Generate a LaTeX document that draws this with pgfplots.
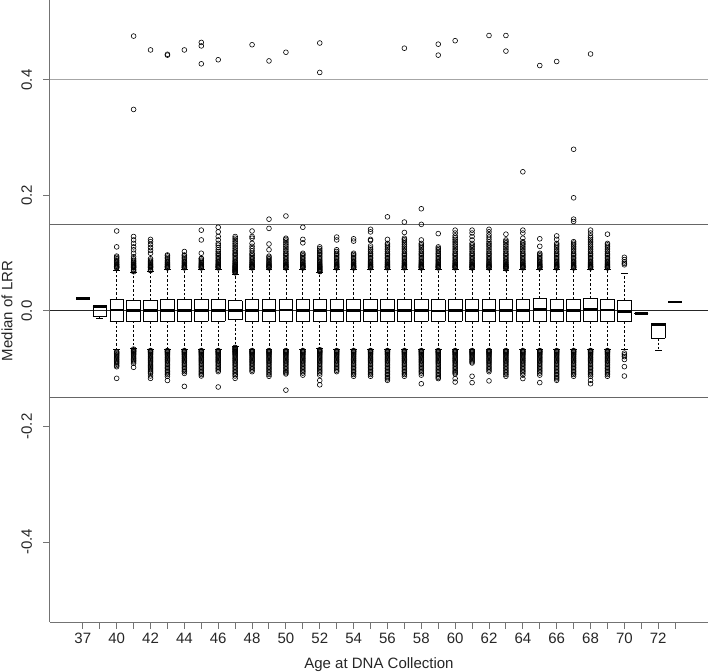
\documentclass[border=0pt]{standalone}
\usepackage{fontspec}
\setmainfont{Liberation Sans}
\usepackage{pgfplots}
\usepackage{pgfplotstable}
\pgfplotsset{compat=1.18}
% box statistics: position, lower whisker, Q1, median, Q3, upper whisker
\pgfplotstableread{
pos lw q1 med q3 uw
1 0.022 0.022 0.022 0.022 0.022
2 -0.0125 -0.009 0.0075 0.0085 0.009
3 -0.066 -0.0178 0.0017 0.0203 0.071
4 -0.064 -0.0175 0.0012 0.0185 0.066
5 -0.066 -0.0178 0.0005 0.0185 0.068
6 -0.066 -0.0175 0.0010 0.0205 0.072
7 -0.066 -0.0178 0.0012 0.0195 0.072
8 -0.066 -0.0178 0.0015 0.0200 0.072
9 -0.066 -0.0178 0.0010 0.0200 0.072
10 -0.061 -0.0150 0.0015 0.0180 0.064
11 -0.066 -0.0178 0.0015 0.0200 0.072
12 -0.066 -0.0178 0.0012 0.0205 0.072
13 -0.066 -0.0178 0.0018 0.0205 0.072
14 -0.066 -0.0178 0.0015 0.0205 0.072
15 -0.065 -0.0175 0.0012 0.0200 0.066
16 -0.066 -0.0178 0.0015 0.0205 0.072
17 -0.066 -0.0178 0.0010 0.0205 0.072
18 -0.066 -0.0178 0.0015 0.0200 0.072
19 -0.066 -0.0178 0.0005 0.0200 0.072
20 -0.066 -0.0178 0.0012 0.0200 0.072
21 -0.066 -0.0178 0.0015 0.0205 0.072
22 -0.066 -0.0178 0.0000 0.0195 0.072
23 -0.066 -0.0178 0.0010 0.0200 0.072
24 -0.066 -0.0178 0.0015 0.0205 0.072
25 -0.066 -0.0178 0.0015 0.0205 0.072
26 -0.066 -0.0178 0.0008 0.0200 0.071
27 -0.066 -0.0178 0.0005 0.0200 0.072
28 -0.066 -0.0178 0.0020 0.0210 0.072
29 -0.066 -0.0178 0.0010 0.0205 0.072
30 -0.066 -0.0178 0.0012 0.0205 0.072
31 -0.066 -0.0178 0.0020 0.0210 0.072
32 -0.066 -0.0178 0.0017 0.0205 0.072
33 -0.066 -0.0185 -0.0006 0.0180 0.065
34 -0.004 -0.004 -0.004 -0.004 -0.004
35 -0.069 -0.047 -0.023 -0.021 -0.021
36 0.0156 0.0156 0.0156 0.0156 0.0156
}\boxstats
\pgfplotsset{
  eb/.style={only marks, mark=*, mark size=0pt, mark options={draw=none, fill=none}, forget plot, black},
  outl/.style={only marks, mark=o, black, mark size=1.2pt,
    mark options={solid, draw=black, line width=0.3pt}, forget plot},
}
\begin{document}
\begin{tikzpicture}
\begin{axis}[
  name=ax,
  scale only axis, width=329pt, height=311pt,
  xmin=-0.94, xmax=37.94, ymin=-0.5385, ymax=0.5385,
  axis x line*=bottom, axis y line*=left,
  axis line style={black!55, line width=0.5pt},
  xtick={1,...,36},
  xticklabels={37,,40,,42,,44,,46,,48,,50,,52,,54,,56,,58,,60,,62,,64,,66,,68,,70,,72,},
  ytick={-0.4,-0.2,0,0.2,0.4},
  yticklabels={-0.4,-0.2,0.0,0.2,0.4},
  tick align=outside, major tick length=3.3pt,
  tick style={black!55, line width=0.5pt},
  ticklabel style={font=\fontsize{7.5}{9}\selectfont, black!85},
  yticklabel style={rotate=90, anchor=south, inner sep=0pt},
  yticklabel shift=5.5pt,
  xticklabel style={anchor=north, inner sep=0pt, yshift=-2pt},
  xlabel={Age at DNA Collection},
  ylabel={Median of LRR},
  label style={font=\fontsize{7.5}{9}\selectfont, black!85},
  xlabel style={at={(axis description cs:0.5,-0.0563)}, anchor=north, inner sep=0pt},
  ylabel style={at={(axis description cs:-0.0562,0.5)}, anchor=south, inner sep=0pt},
  clip=false,
]
% reference lines
\addplot[black!35, line width=0.5pt, forget plot] coordinates {(-0.94,0.4) (37.94,0.4)};
\addplot[black!60, line width=0.5pt, forget plot] coordinates {(-0.94,0.15) (37.94,0.15)};
\addplot[black!60, line width=0.5pt, forget plot] coordinates {(-0.94,-0.15) (37.94,-0.15)};
\addplot[black!85, line width=0.5pt, forget plot] coordinates {(-0.94,0) (37.94,0)};
\addplot[black!55, line width=0.5pt, forget plot] coordinates {(37.94,-0.5385) (37.94,0.5385)};

% whiskers (dashed)
\addplot[eb, error bars/.cd, y dir=plus, y explicit, error mark=none,
  error bar style={draw=black, line width=0.4pt, dash pattern=on 1.2pt off 1pt}]
  table[x=pos, y=q3, y error plus expr=\thisrow{uw}-\thisrow{q3}] {\boxstats};
\addplot[eb, error bars/.cd, y dir=minus, y explicit, error mark=none,
  error bar style={draw=black, line width=0.4pt, dash pattern=on 1.2pt off 1pt}]
  table[x=pos, y=q1, y error minus expr=\thisrow{q1}-\thisrow{lw}] {\boxstats};
% whisker caps
\addplot[eb, error bars/.cd, x dir=both, x fixed=0.2, error mark=none,
  error bar style={draw=black, line width=0.4pt, solid}]
  table[x=pos, y=uw] {\boxstats};
\addplot[eb, error bars/.cd, x dir=both, x fixed=0.2, error mark=none,
  error bar style={draw=black, line width=0.4pt, solid}]
  table[x=pos, y=lw] {\boxstats};
% box: bottom and top edges
\addplot[eb, error bars/.cd, x dir=both, x fixed=0.4, error mark=none,
  error bar style={draw=black, line width=0.4pt, solid, line cap=rect}]
  table[x=pos, y=q1] {\boxstats};
\addplot[eb, error bars/.cd, x dir=both, x fixed=0.4, error mark=none,
  error bar style={draw=black, line width=0.4pt, solid, line cap=rect}]
  table[x=pos, y=q3] {\boxstats};
% box: left and right sides
\addplot[eb, error bars/.cd, y dir=both, y explicit, error mark=none,
  error bar style={draw=black, line width=0.4pt, solid}]
  table[x expr=\thisrow{pos}-0.4, y expr=0.5*(\thisrow{q1}+\thisrow{q3}), y error expr=0.5*(\thisrow{q3}-\thisrow{q1})] {\boxstats};
\addplot[eb, error bars/.cd, y dir=both, y explicit, error mark=none,
  error bar style={draw=black, line width=0.4pt, solid}]
  table[x expr=\thisrow{pos}+0.4, y expr=0.5*(\thisrow{q1}+\thisrow{q3}), y error expr=0.5*(\thisrow{q3}-\thisrow{q1})] {\boxstats};
% medians
\addplot[eb, error bars/.cd, x dir=both, x fixed=0.4, error mark=none,
  error bar style={draw=black, line width=1.4pt, solid}]
  table[x=pos, y=med] {\boxstats};

% outliers
% 40
\addplot[outl] table[row sep=\\, x expr=3, y index=0]{y\\0.0745\\0.0755\\0.0765\\0.0775\\0.079\\0.0805\\0.082\\0.084\\0.086\\0.088\\0.0905\\0.093\\0.095\\0.111\\0.1385\\-0.0705\\-0.0715\\-0.073\\-0.0745\\-0.076\\-0.078\\-0.080\\-0.082\\-0.084\\-0.086\\-0.088\\-0.090\\-0.092\\-0.0945\\-0.0965\\-0.1166\\};
% 41
\addplot[outl] table[row sep=\\, x expr=4, y index=0]{y\\0.068\\0.070\\0.072\\0.0745\\0.0755\\0.0765\\0.0775\\0.079\\0.0805\\0.082\\0.084\\0.086\\0.088\\0.0905\\0.094\\0.100\\0.106\\0.111\\0.117\\0.123\\0.129\\0.349\\0.476\\-0.066\\-0.0675\\-0.0685\\-0.0695\\-0.0705\\-0.0715\\-0.073\\-0.0745\\-0.076\\-0.078\\-0.080\\-0.082\\-0.084\\-0.086\\-0.088\\-0.0905\\-0.0975\\};
% 42
\addplot[outl] table[row sep=\\, x expr=5, y index=0]{y\\0.070\\0.072\\0.0745\\0.0755\\0.0765\\0.0775\\0.079\\0.0805\\0.082\\0.084\\0.086\\0.088\\0.0905\\0.100\\0.105\\0.110\\0.115\\0.120\\0.124\\0.452\\-0.0685\\-0.0695\\-0.0705\\-0.0715\\-0.073\\-0.0745\\-0.076\\-0.078\\-0.080\\-0.082\\-0.084\\-0.086\\-0.088\\-0.090\\-0.092\\-0.094\\-0.096\\-0.098\\-0.100\\-0.102\\-0.104\\-0.106\\-0.108\\-0.1125\\-0.1166\\};
% 43
\addplot[outl] table[row sep=\\, x expr=6, y index=0]{y\\0.0745\\0.0755\\0.0765\\0.0775\\0.079\\0.0805\\0.082\\0.084\\0.086\\0.088\\0.0905\\0.093\\0.0955\\0.097\\0.443\\0.4445\\-0.0685\\-0.0695\\-0.0705\\-0.0715\\-0.073\\-0.0745\\-0.076\\-0.078\\-0.080\\-0.082\\-0.084\\-0.086\\-0.088\\-0.090\\-0.0925\\-0.095\\-0.0975\\-0.100\\-0.1025\\-0.105\\-0.1075\\-0.110\\-0.113\\-0.1203\\};
% 44
\addplot[outl] table[row sep=\\, x expr=7, y index=0]{y\\0.0745\\0.0755\\0.0765\\0.0775\\0.079\\0.0805\\0.082\\0.084\\0.086\\0.088\\0.0905\\0.093\\0.0955\\0.097\\0.103\\0.452\\-0.0685\\-0.0695\\-0.0705\\-0.0715\\-0.073\\-0.0745\\-0.076\\-0.078\\-0.080\\-0.082\\-0.084\\-0.086\\-0.088\\-0.090\\-0.0925\\-0.095\\-0.0975\\-0.100\\-0.1025\\-0.105\\-0.108\\-0.1305\\};
% 45
\addplot[outl] table[row sep=\\, x expr=8, y index=0]{y\\0.0745\\0.0755\\0.0765\\0.0775\\0.079\\0.0805\\0.082\\0.084\\0.086\\0.088\\0.0905\\0.091\\0.100\\0.123\\0.140\\0.428\\0.459\\0.465\\-0.0685\\-0.0695\\-0.0705\\-0.0715\\-0.073\\-0.0745\\-0.076\\-0.078\\-0.080\\-0.082\\-0.084\\-0.086\\-0.088\\-0.090\\-0.0925\\-0.095\\-0.0975\\-0.100\\-0.1025\\-0.105\\-0.1075\\-0.110\\-0.1125\\};
% 46
\addplot[outl] table[row sep=\\, x expr=9, y index=0]{y\\0.0745\\0.0755\\0.0765\\0.0775\\0.079\\0.0805\\0.082\\0.084\\0.086\\0.088\\0.0905\\0.093\\0.0955\\0.098\\0.100\\0.103\\0.106\\0.110\\0.114\\0.117\\0.123\\0.129\\0.137\\0.145\\0.435\\-0.0685\\-0.0695\\-0.0705\\-0.0715\\-0.073\\-0.0745\\-0.076\\-0.078\\-0.080\\-0.082\\-0.084\\-0.086\\-0.088\\-0.090\\-0.0925\\-0.095\\-0.0975\\-0.100\\-0.1025\\-0.105\\-0.1316\\};
% 47
\addplot[outl] table[row sep=\\, x expr=10, y index=0]{y\\0.066\\0.067\\0.068\\0.069\\0.070\\0.071\\0.072\\0.073\\0.0745\\0.0755\\0.0765\\0.0775\\0.079\\0.0805\\0.082\\0.084\\0.086\\0.088\\0.0905\\0.093\\0.0955\\0.098\\0.100\\0.1025\\0.105\\0.108\\0.111\\0.114\\0.117\\0.120\\0.123\\0.126\\0.129\\-0.063\\-0.064\\-0.065\\-0.066\\-0.067\\-0.0685\\-0.0695\\-0.0705\\-0.0715\\-0.073\\-0.0745\\-0.076\\-0.078\\-0.080\\-0.082\\-0.084\\-0.086\\-0.088\\-0.090\\-0.0925\\-0.095\\-0.0975\\-0.100\\-0.1025\\-0.105\\-0.1075\\-0.110\\-0.1125\\-0.1166\\};
% 48
\addplot[outl] table[row sep=\\, x expr=11, y index=0]{y\\0.0745\\0.0755\\0.0765\\0.0775\\0.079\\0.0805\\0.082\\0.084\\0.086\\0.088\\0.0905\\0.093\\0.0955\\0.098\\0.100\\0.104\\0.108\\0.112\\0.117\\0.126\\0.129\\0.1385\\0.461\\-0.0685\\-0.0695\\-0.0705\\-0.0715\\-0.073\\-0.0745\\-0.076\\-0.078\\-0.080\\-0.082\\-0.084\\-0.086\\-0.088\\-0.090\\-0.0925\\-0.095\\-0.0975\\-0.100\\-0.1025\\-0.105\\};
% 49
\addplot[outl] table[row sep=\\, x expr=12, y index=0]{y\\0.0745\\0.0755\\0.0765\\0.0775\\0.079\\0.0805\\0.082\\0.084\\0.086\\0.088\\0.0905\\0.093\\0.095\\0.106\\0.116\\0.143\\0.159\\0.433\\-0.0685\\-0.0695\\-0.0705\\-0.0715\\-0.073\\-0.0745\\-0.076\\-0.078\\-0.080\\-0.082\\-0.084\\-0.086\\-0.088\\-0.090\\-0.0925\\-0.095\\-0.0975\\-0.100\\-0.1025\\-0.105\\-0.1075\\-0.110\\-0.113\\};
% 50
\addplot[outl] table[row sep=\\, x expr=13, y index=0]{y\\0.0745\\0.0755\\0.0765\\0.0775\\0.079\\0.0805\\0.082\\0.084\\0.086\\0.088\\0.0905\\0.093\\0.0955\\0.098\\0.100\\0.103\\0.106\\0.109\\0.112\\0.115\\0.118\\0.121\\0.124\\0.126\\0.1645\\0.448\\-0.0685\\-0.0695\\-0.0705\\-0.0715\\-0.073\\-0.0745\\-0.076\\-0.078\\-0.080\\-0.082\\-0.084\\-0.086\\-0.088\\-0.090\\-0.0925\\-0.095\\-0.0975\\-0.100\\-0.1025\\-0.105\\-0.107\\-0.109\\-0.137\\};
% 51
\addplot[outl] table[row sep=\\, x expr=14, y index=0]{y\\0.0745\\0.0755\\0.0765\\0.0775\\0.079\\0.0805\\0.082\\0.084\\0.086\\0.088\\0.0905\\0.093\\0.0955\\0.098\\0.100\\0.118\\0.124\\0.145\\-0.0685\\-0.0695\\-0.0705\\-0.0715\\-0.073\\-0.0745\\-0.076\\-0.078\\-0.080\\-0.082\\-0.084\\-0.086\\-0.088\\-0.090\\-0.0925\\-0.095\\-0.0975\\-0.100\\-0.1025\\-0.105\\-0.1075\\-0.111\\};
% 52
\addplot[outl] table[row sep=\\, x expr=15, y index=0]{y\\0.068\\0.069\\0.070\\0.071\\0.072\\0.073\\0.0745\\0.0755\\0.0765\\0.0775\\0.079\\0.0805\\0.082\\0.084\\0.086\\0.088\\0.0905\\0.093\\0.0955\\0.098\\0.100\\0.1025\\0.105\\0.108\\0.111\\0.413\\0.464\\-0.067\\-0.0685\\-0.0695\\-0.0705\\-0.0715\\-0.073\\-0.0745\\-0.076\\-0.078\\-0.080\\-0.082\\-0.084\\-0.086\\-0.088\\-0.090\\-0.0925\\-0.095\\-0.0975\\-0.100\\-0.1025\\-0.105\\-0.1075\\-0.111\\-0.1203\\-0.1278\\};
% 53
\addplot[outl] table[row sep=\\, x expr=16, y index=0]{y\\0.0745\\0.0755\\0.0765\\0.0775\\0.079\\0.0805\\0.082\\0.084\\0.086\\0.088\\0.0905\\0.093\\0.0955\\0.098\\0.100\\0.103\\0.106\\0.123\\0.128\\-0.0685\\-0.0695\\-0.0705\\-0.0715\\-0.073\\-0.0745\\-0.076\\-0.078\\-0.080\\-0.082\\-0.084\\-0.086\\-0.088\\-0.090\\-0.0925\\-0.095\\-0.0975\\-0.100\\-0.1025\\-0.105\\};
% 54
\addplot[outl] table[row sep=\\, x expr=17, y index=0]{y\\0.0745\\0.0755\\0.0765\\0.0775\\0.079\\0.0805\\0.082\\0.084\\0.086\\0.088\\0.0905\\0.093\\0.0955\\0.098\\0.100\\0.121\\0.125\\-0.0685\\-0.0695\\-0.0705\\-0.0715\\-0.073\\-0.0745\\-0.076\\-0.078\\-0.080\\-0.082\\-0.084\\-0.086\\-0.088\\-0.090\\-0.0925\\-0.095\\-0.0975\\-0.100\\-0.1025\\-0.105\\-0.1075\\-0.110\\-0.113\\};
% 55
\addplot[outl] table[row sep=\\, x expr=18, y index=0]{y\\0.0745\\0.0755\\0.0765\\0.0775\\0.079\\0.0805\\0.082\\0.084\\0.086\\0.088\\0.0905\\0.093\\0.0955\\0.098\\0.100\\0.103\\0.106\\0.109\\0.1125\\0.122\\0.124\\0.137\\0.1415\\-0.0685\\-0.0695\\-0.0705\\-0.0715\\-0.073\\-0.0745\\-0.076\\-0.078\\-0.080\\-0.082\\-0.084\\-0.086\\-0.088\\-0.090\\-0.0925\\-0.095\\-0.0975\\-0.100\\-0.1025\\-0.105\\-0.1075\\-0.110\\-0.113\\};
% 56
\addplot[outl] table[row sep=\\, x expr=19, y index=0]{y\\0.0745\\0.0755\\0.0765\\0.0775\\0.079\\0.0805\\0.082\\0.084\\0.086\\0.088\\0.0905\\0.093\\0.0955\\0.098\\0.100\\0.103\\0.106\\0.109\\0.112\\0.1145\\0.117\\0.124\\0.163\\-0.0685\\-0.0695\\-0.0705\\-0.0715\\-0.073\\-0.0745\\-0.076\\-0.078\\-0.080\\-0.082\\-0.084\\-0.086\\-0.088\\-0.090\\-0.0925\\-0.095\\-0.0975\\-0.100\\-0.1025\\-0.105\\-0.1075\\-0.110\\-0.1125\\-0.115\\-0.1175\\-0.120\\};
% 57
\addplot[outl] table[row sep=\\, x expr=20, y index=0]{y\\0.0745\\0.0755\\0.0765\\0.0775\\0.079\\0.0805\\0.082\\0.084\\0.086\\0.088\\0.0905\\0.093\\0.0955\\0.098\\0.100\\0.103\\0.106\\0.109\\0.112\\0.115\\0.118\\0.121\\0.1235\\0.126\\0.136\\0.154\\0.455\\-0.0685\\-0.0695\\-0.0705\\-0.0715\\-0.073\\-0.0745\\-0.076\\-0.078\\-0.080\\-0.082\\-0.084\\-0.086\\-0.088\\-0.090\\-0.0925\\-0.095\\-0.0975\\-0.100\\-0.1025\\-0.105\\-0.1075\\-0.110\\-0.113\\};
% 58
\addplot[outl] table[row sep=\\, x expr=21, y index=0]{y\\0.0745\\0.0755\\0.0765\\0.0775\\0.079\\0.0805\\0.082\\0.084\\0.086\\0.088\\0.0905\\0.093\\0.0955\\0.098\\0.100\\0.103\\0.106\\0.109\\0.112\\0.1145\\0.117\\0.123\\0.150\\0.177\\-0.0685\\-0.0695\\-0.0705\\-0.0715\\-0.073\\-0.0745\\-0.076\\-0.078\\-0.080\\-0.082\\-0.084\\-0.086\\-0.088\\-0.090\\-0.0925\\-0.095\\-0.0975\\-0.100\\-0.1025\\-0.105\\-0.1075\\-0.111\\-0.126\\};
% 59
\addplot[outl] table[row sep=\\, x expr=22, y index=0]{y\\0.0745\\0.0755\\0.0765\\0.0775\\0.079\\0.0805\\0.082\\0.084\\0.086\\0.088\\0.0905\\0.093\\0.0955\\0.098\\0.100\\0.103\\0.106\\0.1085\\0.111\\0.134\\0.443\\0.462\\-0.0685\\-0.0695\\-0.0705\\-0.0715\\-0.073\\-0.0745\\-0.076\\-0.078\\-0.080\\-0.082\\-0.084\\-0.086\\-0.088\\-0.090\\-0.0925\\-0.095\\-0.0975\\-0.100\\-0.1025\\-0.105\\-0.1075\\-0.110\\-0.1125\\-0.115\\-0.117\\};
% 60
\addplot[outl] table[row sep=\\, x expr=23, y index=0]{y\\0.0745\\0.0755\\0.0765\\0.0775\\0.079\\0.0805\\0.082\\0.084\\0.086\\0.088\\0.0905\\0.093\\0.0955\\0.098\\0.100\\0.103\\0.106\\0.109\\0.112\\0.115\\0.118\\0.121\\0.124\\0.127\\0.130\\0.135\\0.140\\0.468\\-0.0685\\-0.0695\\-0.0705\\-0.0715\\-0.073\\-0.0745\\-0.076\\-0.078\\-0.080\\-0.082\\-0.084\\-0.086\\-0.088\\-0.090\\-0.0925\\-0.095\\-0.0975\\-0.100\\-0.1025\\-0.105\\-0.107\\-0.109\\-0.117\\-0.123\\};
% 61
\addplot[outl] table[row sep=\\, x expr=24, y index=0]{y\\0.0745\\0.0755\\0.0765\\0.0775\\0.079\\0.0805\\0.082\\0.084\\0.086\\0.088\\0.0905\\0.093\\0.0955\\0.098\\0.100\\0.103\\0.106\\0.109\\0.112\\0.1145\\0.117\\0.123\\0.129\\0.135\\0.140\\-0.0685\\-0.0695\\-0.0705\\-0.0715\\-0.073\\-0.0745\\-0.076\\-0.078\\-0.080\\-0.082\\-0.084\\-0.086\\-0.088\\-0.090\\-0.113\\-0.124\\};
% 62
\addplot[outl] table[row sep=\\, x expr=25, y index=0]{y\\0.0745\\0.0755\\0.0765\\0.0775\\0.079\\0.0805\\0.082\\0.084\\0.086\\0.088\\0.0905\\0.093\\0.0955\\0.098\\0.100\\0.103\\0.106\\0.109\\0.112\\0.1145\\0.117\\0.120\\0.124\\0.128\\0.132\\0.137\\0.1415\\0.477\\-0.0685\\-0.0695\\-0.0705\\-0.0715\\-0.073\\-0.0745\\-0.076\\-0.078\\-0.080\\-0.082\\-0.084\\-0.086\\-0.088\\-0.090\\-0.0925\\-0.095\\-0.0975\\-0.100\\-0.1025\\-0.105\\-0.121\\};
% 63
\addplot[outl] table[row sep=\\, x expr=26, y index=0]{y\\0.073\\0.0745\\0.0755\\0.0765\\0.0775\\0.079\\0.0805\\0.082\\0.084\\0.086\\0.088\\0.0905\\0.093\\0.0955\\0.098\\0.100\\0.103\\0.106\\0.109\\0.112\\0.115\\0.118\\0.1205\\0.123\\0.133\\0.450\\0.477\\-0.0685\\-0.0695\\-0.0705\\-0.0715\\-0.073\\-0.0745\\-0.076\\-0.078\\-0.080\\-0.082\\-0.084\\-0.086\\-0.088\\-0.090\\-0.0925\\-0.095\\-0.0975\\-0.100\\-0.1025\\-0.105\\-0.1075\\-0.110\\-0.113\\};
% 64
\addplot[outl] table[row sep=\\, x expr=27, y index=0]{y\\0.0745\\0.0755\\0.0765\\0.0775\\0.079\\0.0805\\0.082\\0.084\\0.086\\0.088\\0.0905\\0.093\\0.0955\\0.098\\0.100\\0.103\\0.106\\0.109\\0.112\\0.115\\0.1175\\0.120\\0.126\\0.135\\0.140\\0.241\\-0.0685\\-0.0695\\-0.0705\\-0.0715\\-0.073\\-0.0745\\-0.076\\-0.078\\-0.080\\-0.082\\-0.084\\-0.086\\-0.088\\-0.090\\-0.0925\\-0.095\\-0.0975\\-0.100\\-0.1025\\-0.105\\-0.1075\\-0.111\\-0.117\\};
% 65
\addplot[outl] table[row sep=\\, x expr=28, y index=0]{y\\0.0745\\0.0755\\0.0765\\0.0775\\0.079\\0.0805\\0.082\\0.084\\0.086\\0.088\\0.0905\\0.093\\0.0955\\0.098\\0.100\\0.112\\0.125\\0.425\\-0.0685\\-0.0695\\-0.0705\\-0.0715\\-0.073\\-0.0745\\-0.076\\-0.078\\-0.080\\-0.082\\-0.084\\-0.086\\-0.088\\-0.090\\-0.0925\\-0.095\\-0.0975\\-0.100\\-0.1025\\-0.105\\-0.1075\\-0.111\\-0.124\\};
% 66
\addplot[outl] table[row sep=\\, x expr=29, y index=0]{y\\0.0745\\0.0755\\0.0765\\0.0775\\0.079\\0.0805\\0.082\\0.084\\0.086\\0.088\\0.0905\\0.093\\0.0955\\0.098\\0.100\\0.103\\0.106\\0.109\\0.112\\0.1145\\0.117\\0.124\\0.130\\0.432\\-0.0685\\-0.0695\\-0.0705\\-0.0715\\-0.073\\-0.0745\\-0.076\\-0.078\\-0.080\\-0.082\\-0.084\\-0.086\\-0.088\\-0.090\\-0.0925\\-0.095\\-0.0975\\-0.100\\-0.1025\\-0.105\\-0.1075\\-0.110\\-0.1125\\-0.115\\-0.1175\\-0.120\\};
% 67
\addplot[outl] table[row sep=\\, x expr=30, y index=0]{y\\0.0745\\0.0755\\0.0765\\0.0775\\0.079\\0.0805\\0.082\\0.084\\0.086\\0.088\\0.0905\\0.093\\0.0955\\0.098\\0.100\\0.103\\0.106\\0.109\\0.112\\0.115\\0.1175\\0.120\\0.155\\0.159\\0.196\\0.280\\-0.0685\\-0.0695\\-0.0705\\-0.0715\\-0.073\\-0.0745\\-0.076\\-0.078\\-0.080\\-0.082\\-0.084\\-0.086\\-0.088\\-0.090\\-0.0925\\-0.095\\-0.0975\\-0.100\\-0.1025\\-0.105\\-0.1075\\-0.110\\-0.113\\};
% 68
\addplot[outl] table[row sep=\\, x expr=31, y index=0]{y\\0.0745\\0.0755\\0.0765\\0.0775\\0.079\\0.0805\\0.082\\0.084\\0.086\\0.088\\0.0905\\0.093\\0.0955\\0.098\\0.100\\0.103\\0.106\\0.109\\0.112\\0.115\\0.118\\0.121\\0.124\\0.127\\0.130\\0.135\\0.140\\0.445\\-0.0685\\-0.0695\\-0.0705\\-0.0715\\-0.073\\-0.0745\\-0.076\\-0.078\\-0.080\\-0.082\\-0.084\\-0.086\\-0.088\\-0.090\\-0.0925\\-0.095\\-0.0975\\-0.100\\-0.1025\\-0.105\\-0.1075\\-0.110\\-0.113\\-0.120\\-0.126\\};
% 69
\addplot[outl] table[row sep=\\, x expr=32, y index=0]{y\\0.0745\\0.0755\\0.0765\\0.0775\\0.079\\0.0805\\0.082\\0.084\\0.086\\0.088\\0.0905\\0.093\\0.0955\\0.098\\0.100\\0.103\\0.106\\0.109\\0.112\\0.1145\\0.117\\0.133\\-0.0685\\-0.0695\\-0.0705\\-0.0715\\-0.073\\-0.0745\\-0.076\\-0.078\\-0.080\\-0.082\\-0.084\\-0.086\\-0.088\\-0.090\\-0.0925\\-0.095\\-0.0975\\-0.100\\-0.1025\\-0.105\\-0.1075\\-0.110\\-0.113\\};
% 70
\addplot[outl] table[row sep=\\, x expr=33, y index=0]{y\\0.080\\0.0825\\0.085\\0.089\\0.093\\-0.073\\-0.076\\-0.079\\-0.084\\-0.0964\\-0.1126\\};
\end{axis}
\pgfresetboundingbox
\path ([xshift=-25pt,yshift=-24.5pt]ax.south west) rectangle (ax.north east);
\end{tikzpicture}
\end{document}
